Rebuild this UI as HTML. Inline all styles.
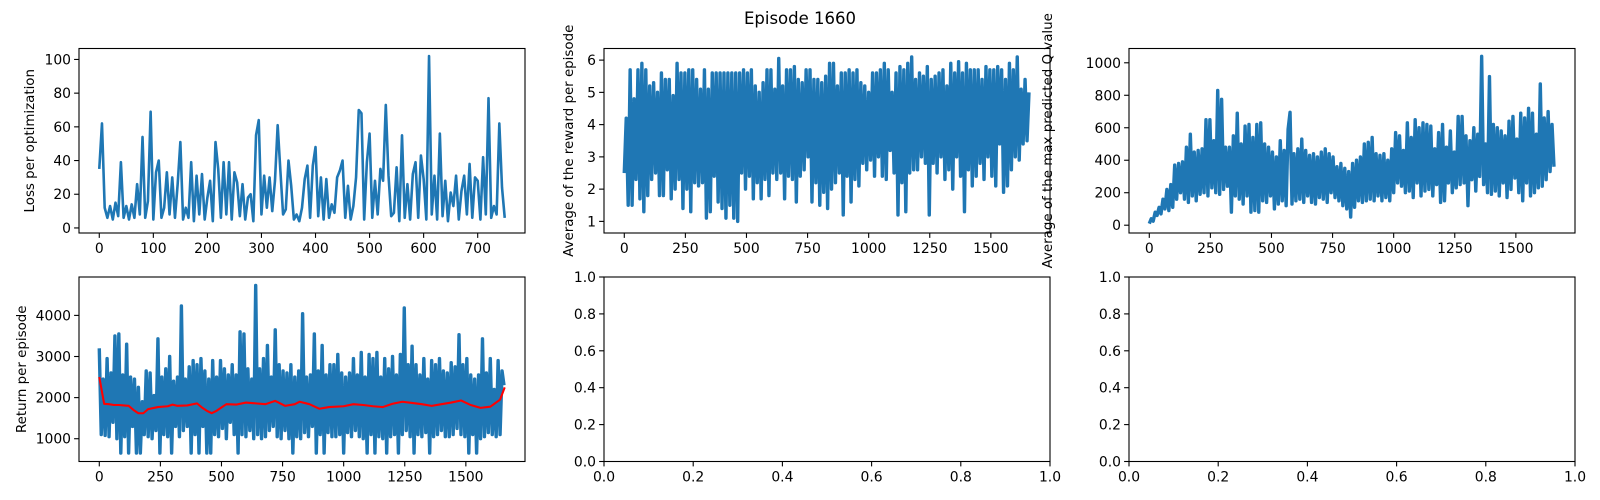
<!DOCTYPE html>
<html><head><meta charset="utf-8"><style>
html,body{margin:0;padding:0;background:#fff;}
svg{display:block;font-family:"DejaVu Sans","Liberation Sans",sans-serif;}
</style></head><body>
<svg id="fig" width="1600" height="500" viewBox="0 0 1600 500" xmlns="http://www.w3.org/2000/svg">
<rect width="1600" height="500" fill="#fff"/>
<text x="800" y="24" font-size="16.5" text-anchor="middle" fill="#000">Episode 1660</text>
</svg>
<script>
// ---- data ----
const lossValues = [35,62,12,6,13,5,15,7,39,6,13,5,14,6,26,8,54,6,16,69,5,33,40,6,12,33,8,30,6,26,51,5,12,6,39,4,31,8,32,5,18,28,4,51,35,6,39,8,39,5,33,27,7,26,5,18,20,4,55,64,8,31,12,30,10,28,61,34,8,11,40,25,5,8,4,12,29,37,6,37,48,7,30,5,29,6,14,9,30,34,40,6,25,5,13,30,70,68,5,39,56,6,28,8,35,28,73,31,7,9,36,4,55,6,26,5,32,39,6,43,29,5,102,8,31,5,56,7,28,4,21,13,31,5,22,31,8,38,6,30,28,5,42,8,77,6,13,8,62,24,6];
const lossStep = 5;
const rewardValues = [2.5,4.2,1.5,5.7,1.5,4.8,2.3,5.7,1.7,5.9, 1.3,5.7,1.8,5.2,2.3,5.3,2.5,5.0,1.8,5.6, 1.8,5.4,2.6,5.4,1.7,4.9,2.0,5.9,2.3,5.6, 1.4,5.6,2.0,5.7,1.3,5.7,2.2,5.4,2.1,5.1, 2.2,5.7,1.1,5.1,1.3,5.6,2.4,5.6,1.6,5.6, 1.4,5.6,1.1,5.6,1.5,5.6,1.1,5.6,1.0,5.6, 2.5,5.7,2.0,5.6,2.4,5.7,1.7,5.2,2.2,5.0, 1.7,5.3,2.3,5.7,1.8,5.7,2.5,5.1,2.3,6.05, 2.5,5.2,1.7,5.7,2.4,5.7,2.3,5.8,1.6,5.4, 2.4,5.3,2.6,5.7,3.0,5.7,1.6,5.4,2.2,5.4, 1.5,5.3,1.9,5.5,1.4,5.9,2.0,5.9,2.2,5.2, 2.5,5.6,1.2,5.6,2.4,5.7,1.6,5.6,2.3,5.7, 2.1,5.3,2.8,5.2,2.6,5.0,2.9,5.6,2.4,5.6, 3.0,5.7,2.4,5.9,2.3,5.7,3.2,5.0,2.5,5.6, 1.2,5.8,2.2,5.7,1.3,5.9,2.5,6.1,2.6,5.4, 2.6,5.6,3.0,5.5,2.8,5.8,1.2,5.4,2.8,5.5, 2.5,5.6,3.0,5.7,2.3,5.2,2.6,5.9,2.0,5.6, 3.0,5.95,2.4,5.6,1.3,5.9,2.6,5.7,2.1,5.7, 2.4,5.7,2.8,5.4,2.3,5.8,3.0,5.7,2.4,5.7, 2.1,5.8,3.4,5.7,1.9,5.4,2.1,5.9,2.6,5.7, 3.0,6.1,2.9,5.1,3.4,5.4,3.5,5.0];
const qValues = [10,40,25,80,60,110,70,160,100,220, 90,250,110,370,160,380,200,390,160,480, 140,560,180,450,150,460,190,470,200,650, 180,650,230,520,200,830,190,775,220,480, 240,480,80,550,180,690,160,500,130,610, 180,620,80,540,90,620,80,630,150,500, 140,480,180,450,100,420,130,520,150,460, 120,590,695,130,440,150,470,160,530,140, 460,180,430,140,440,130,420,170,450,160, 470,140,440,200,420,170,360,150,380,120, 350,100,330,50,380,110,400,150,420,140, 500,150,510,160,540,150,440,180,430,150, 440,170,400,150,470,200,570,260,550,240, 460,200,630,210,540,170,650,260,600,180, 630,210,620,220,610,180,470,250,570,140, 620,150,480,260,580,200,450,230,670,250, 670,260,550,120,520,280,600,210,560,300, 1040,250,500,200,915,190,620,210,600,180, 580,260,550,170,640,220,670,290,530,200, 690,150,660,260,720,180,690,200,560,230, 870,240,660,280,700,330,620,360];
const returnValues = [3200,1100,2450,1080,2950,1050,2600,1400,3500,1000, 3550,650,2550,1050,3300,650,2500,1300,2450,650, 2250,650,1900,1100,2650,1050,2600,1000,2050,1200, 3430,650,2500,1100,2700,1050,3000,650,2400,1300, 2500,1050,4230,1200,2450,1300,2750,650,2900,1100, 2800,650,2950,1300,2650,650,2450,650,2900,1100, 2500,1050,2900,1250,2700,1000,2550,1400,2800,1100, 2550,650,3600,1100,3550,1050,2700,1200,2450,1000, 4730,1100,2700,1000,2950,1050,3270,1200,2500,1300, 3650,1050,2800,1000,2650,1200,2600,1000,2800,650, 2500,1050,2650,1000,4040,1150,2500,1050,2550,1300, 3550,650,2650,1100,3270,650,2550,1150,2800,1050, 2800,1050,3050,1100,2600,650,2500,1150,2600,1050, 2950,1200,2550,1050,3100,1000,2500,650,3050,1100, 2950,650,3100,1050,2500,1000,2950,650,2700,1050, 3000,1100,2550,650,3050,1100,4180,1200,2800,1050, 3250,650,2800,1100,2550,1050,2950,1150,2450,650, 2900,1050,2800,1100,2950,1200,2650,1050,2600,1050, 2850,1100,2750,1250,3530,1100,2800,1050,2950,650, 2550,1100,2450,650,2550,1000,3430,1050,2600,1150, 2950,1100,2200,1050,2900,1100,2650,2300];
const episodeStep = 8;
const maEpisodes = [0,20,40,60,80,100,120,140,160,180,200,240,280,300,320,360,400,420,440,460,480,520,560,600,640,680,720,760,800,820,860,900,940,1000,1040,1080,1120,1160,1200,1240,1280,1320,1360,1400,1440,1480,1520,1560,1600,1640,1659];
const maValues = [2500,1850,1840,1820,1820,1810,1800,1700,1620,1620,1720,1770,1790,1830,1800,1810,1860,1760,1680,1620,1680,1840,1830,1880,1860,1840,1920,1800,1840,1900,1840,1730,1770,1790,1840,1820,1790,1770,1850,1900,1870,1840,1800,1840,1880,1930,1820,1750,1780,1950,2250];
const lossXTicks = [0,100,200,300,400,500,600,700];
const lossYTicks = [0,20,40,60,80,100];
const epTicks = [0,250,500,750,1000,1250,1500];
const rewardYTicks = [1,2,3,4,5,6];
const qYTicks = [0,200,400,600,800,1000];
const returnYTicks = [1000,2000,3000,4000];
const unitTicks = [0,0.2,0.4,0.6,0.8,1.0];

const NS = "http://www.w3.org/2000/svg";
const fig = document.getElementById('fig');
function mk(tag, attrs, parent){const e=document.createElementNS(NS,tag);for(const k in attrs)e.setAttribute(k,attrs[k]);(parent||fig).appendChild(e);return e;}

function makeAxes(name, x0, y0, w, h, xlim, ylim, xt, yt, fmtX, fmtY, ylabel, labelX){
  const g = mk('g',{});
  
  
  const sx = v => x0 + (v - xlim[0]) / (xlim[1]-xlim[0]) * w;
  const sy = v => y0 + h - (v - ylim[0]) / (ylim[1]-ylim[0]) * h;
  const plot = mk('g',{},g);
  
  
  xt.forEach(t => {
    const x = sx(t);
    const tk = mk('line',{x1:x,x2:x,y1:y0+h,y2:y0+h+4.9,stroke:'#000','stroke-width':1.1},g);
    
    
    const lb = mk('text',{x:x,y:y0+h+20,'font-size':13.9,'text-anchor':'middle',fill:'#000'},g);
    
    
    lb.textContent = fmtX(t);
  });
  yt.forEach(t => {
    const y = sy(t);
    const tk = mk('line',{x1:x0-4.9,x2:x0,y1:y,y2:y,stroke:'#000','stroke-width':1.1},g);
    
    
    const lb = mk('text',{x:x0-8,y:y+5,'font-size':13.9,'text-anchor':'end',fill:'#000'},g);
    
    
    lb.textContent = fmtY(t);
  });
  if (ylabel){
    const cy = y0 + h/2;
    const yl = mk('text',{x:labelX,y:cy,'font-size':13.4,'text-anchor':'middle',fill:'#000',transform:`rotate(-90 ${labelX} ${cy})`},g);
    
    
    yl.textContent = ylabel;
  }
  return {g, plot, sx, sy, frame(){ const f = mk('rect',{x:x0,y:y0,width:w,height:h,fill:'none',stroke:'#000','stroke-width':1.1},g);   }};
}
function drawLine(ax, xs, ys, color, width, name){
  const d = ys.map((v,i)=> (i?'L':'M') + ax.sx(xs(i)).toFixed(2) + ' ' + ax.sy(v).toFixed(2)).join(' ');
  const p = mk('path',{d:d,fill:'none',stroke:color,'stroke-width':width,'stroke-linejoin':'round'},ax.plot);
  
  
}
const fi = v => String(v);
const f1 = v => v.toFixed(1);
const C = '#1f77b4';
const H = 184.5;

const a1 = makeAxes('loss-axes',79,48.5,446,H,[-37.5,787.5],[-3,106.5],lossXTicks,lossYTicks,fi,fi,'Loss per optimization',34);
drawLine(a1, i=>i*lossStep, lossValues, C, 2.6, 'loss-line');
a1.frame();

const a2 = makeAxes('reward-axes',604,48.5,446,H,[-83,1742],[0.64,6.36],epTicks,rewardYTicks,fi,fi,'Average of the reward per episode',573);
drawLine(a2, i=>i*episodeStep, rewardValues, C, 3.4, 'reward-line');
a2.frame();

const a3 = makeAxes('q-value-axes',1129,48.5,446,H,[-83,1742],[-48,1088],epTicks,qYTicks,fi,fi,'Average of the max predicted Q value',1052);
drawLine(a3, i=>i*episodeStep, qValues, C, 3.4, 'q-value-line');
a3.frame();

const a4 = makeAxes('return-axes',79,277,446,H,[-83,1742],[446,4934],epTicks,returnYTicks,fi,fi,'Return per episode',26);
drawLine(a4, i=>i*episodeStep, returnValues, C, 3.4, 'return-line');
drawLine(a4, i=>maEpisodes[i], maValues, '#ff0000', 2.08, 'return-moving-average-line');
a4.frame();

const a5 = makeAxes('empty-axes-middle',604,277,446,H,[0,1],[0,1],unitTicks,unitTicks,f1,f1,null,0);
a5.frame();
const a6 = makeAxes('empty-axes-right',1129,277,446,H,[0,1],[0,1],unitTicks,unitTicks,f1,f1,null,0);
a6.frame();
</script>
</body></html>
